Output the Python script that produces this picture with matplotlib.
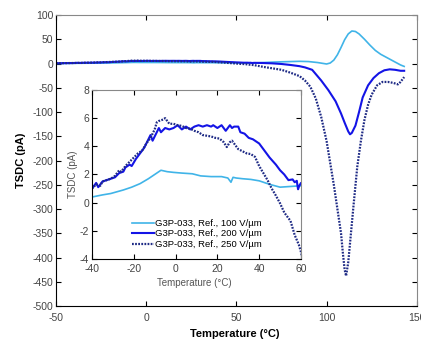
import matplotlib
matplotlib.use("Agg")
from matplotlib import pyplot as plt

plt.rcParams['font.family'] = ['Liberation Sans', 'DejaVu Sans']
plt.rcParams['axes.unicode_minus'] = False

# 100 V/um
t100 = [-50, -45, -40, -35, -31, -25, -21, -17, -13, -10,
        -7, -4, -1, 3, 8, 12, 17, 22, 25, 26.5,
        27.5, 29, 32, 36, 40, 45, 50, 55, 60, 65,
        70, 75, 80, 85, 90, 95, 100, 102, 104, 106,
        108, 110, 112, 114, 116, 118, 121, 124, 127, 130,
        134, 138, 141, 143]
v100 = [0.1, 0.2, 0.4, 0.55, 0.65, 0.9, 1.1, 1.35, 1.7, 2.0,
        2.3, 2.2, 2.15, 2.1, 2.05, 1.9, 1.85, 1.85, 1.75, 1.45,
        1.8, 1.75, 1.7, 1.65, 1.55, 1.3, 1.1, 1.15, 1.2, 2.0,
        2.8, 3.5, 4.0, 4.5, 4.0, 2.0, -1.0, 1.0, 7.0, 18.0,
        33.0, 49.0, 61.0, 67.0, 66.0, 61.0, 50.0, 38.0, 27.0, 19.0,
        11.0, 3.0, -3.0, -6.0]

# 200 V/um
t200 = [-50, -45, -40, -38, -37, -35, -33, -31, -29, -27,
        -25, -24, -22, -21, -19, -17, -15, -13, -12, -11,
        -10, -8, -7, -5, -3, -1, 1, 3, 5, 7,
        9, 11, 13, 15, 17, 18, 20, 22, 23, 24,
        26, 27, 28, 30, 31, 33, 35, 37, 40, 42,
        45, 48, 50, 52, 54, 56, 57, 58, 58.6, 59.2,
        60, 65, 70, 75, 80, 85, 88, 92, 97, 101,
        105, 108, 110, 112, 113, 114, 116, 118, 120, 123,
        126, 129, 132, 135, 138, 141, 143]
v200 = [0.5, 0.8, 1.0, 1.4, 1.1, 1.5, 1.6, 1.7, 1.8, 2.1,
        2.2, 2.5, 2.7, 2.6, 3.1, 3.5, 3.9, 4.5, 4.8, 4.4,
        4.7, 5.3, 5.0, 5.3, 5.2, 5.3, 5.5, 5.2, 5.4, 5.2,
        5.4, 5.5, 5.4, 5.5, 5.4, 5.5, 5.3, 5.5, 5.3, 5.1,
        5.5, 5.3, 5.4, 5.4, 5.0, 4.9, 4.6, 4.5, 4.2, 3.8,
        3.2, 2.7, 2.3, 2.0, 1.6, 1.65, 1.45, 1.55, 0.95, 1.2,
        1.4, 1.0, 0.3, -1.0, -3.0, -5.5, -8.0, -13.0, -35.0, -55.0,
        -78.0, -103.0, -122.0, -140.0, -146.0, -143.0, -128.0, -100.0, -70.0, -45.0,
        -30.0, -20.0, -14.0, -12.0, -13.0, -15.0, -15.0]

# 250 V/um
t250 = [-50, -45, -40, -38, -36, -35, -33, -31, -29, -27,
        -26, -24, -22, -20, -18, -16, -14, -12, -11, -10,
        -9, -8, -7, -6, -5, -4, -3, -1, 1, 3,
        5, 7, 9, 11, 13, 15, 17, 19, 21, 23,
        24.5, 26, 27, 28, 30, 32, 34, 36, 38, 40,
        42, 44, 46, 48, 50, 52, 54, 55, 57, 59,
        60, 65, 70, 75, 80, 85, 88, 91, 94, 97,
        100, 102, 104, 106, 108, 109, 110, 110.8, 112, 113.5,
        115, 117, 119, 121, 123, 125, 128, 131, 134, 137,
        139.5, 141, 143]
v250 = [0.5, 0.8, 1.0, 1.3, 1.2, 1.5, 1.6, 1.7, 1.9, 2.3,
        2.2, 2.6, 2.9, 3.2, 3.5, 3.7, 4.2, 4.6, 4.9, 5.2,
        5.7, 5.8, 5.85, 5.9, 6.0, 5.8, 5.6, 5.6, 5.5, 5.45,
        5.3, 5.25, 5.1, 5.0, 4.8, 4.75, 4.7, 4.6, 4.55, 4.3,
        3.95, 4.3, 4.4, 4.2, 3.8, 3.65, 3.5, 3.45, 3.25, 2.6,
        2.1, 1.6, 1.0, 0.5, -0.05, -0.7, -1.1, -1.3, -2.3, -3.0,
        -3.5, -7.0, -10.0, -13.0, -19.0, -26.0, -35.0, -48.0, -72.0, -110.0,
        -160.0, -205.0, -250.0, -300.0, -350.0, -390.0, -425.0, -438.0, -410.0, -350.0,
        -290.0, -213.0, -160.0, -116.0, -85.0, -64.0, -45.0, -38.0, -38.0, -40.0,
        -43.0, -38.0, -28.0]

labels = ["G3P-033, Ref., 100 V/µm", "G3P-033, Ref., 200 V/µm", "G3P-033, Ref., 250 V/µm"]
c100 = "#40b4e8"
c200 = "#1414e6"
c250 = "#1e2a85"

tick_col = "#444444"


def draw(ax):
    ax.plot(t100, v100, color=c100, lw=1.2, label=labels[0])
    ax.plot(t200, v200, color=c200, lw=1.5, label=labels[1])
    ax.plot(t250, v250, color=c250, lw=1.6, ls=(0, (0.8, 0.6)), label=labels[2])


def style(ax, size, xpad):
    ax.tick_params(direction='in', top=True, right=True, length=3.5, width=0.8,
                   labelsize=size, labelcolor=tick_col, pad=2)
    ax.tick_params(axis='x', pad=xpad)
    for s in ['left', 'bottom']:
        ax.spines[s].set_color('black')
    for s in ['top', 'right']:
        ax.spines[s].set_color('#888888')


fig = plt.figure(figsize=(4.21, 3.41), dpi=100)
ax = fig.add_axes([0.133, 0.1026, 0.857, 0.8534])
draw(ax)
ax.set_xlim(-50, 150)
ax.set_ylim(-500, 100)
ax.set_xticks(range(-50, 151, 50))
ax.set_yticks(range(-500, 101, 50))
style(ax, 7.5, 5)
ax.set_xlabel("Temperature (°C)", fontsize=8, fontweight='bold')
ax.set_ylabel("TSDC (pA)", fontsize=8, fontweight='bold')
ax.xaxis.set_label_coords(0.496, -0.078)
ax.yaxis.set_label_coords(-0.083, 0.5)

ins = fig.add_axes([0.2185, 0.2405, 0.4964, 0.4956])
draw(ins)
ins.set_xlim(-40, 60)
ins.set_ylim(-4, 8)
ins.set_xticks(range(-40, 61, 20))
ins.set_yticks(range(-4, 9, 2))
style(ins, 7.5, 3.5)
ins.set_xlabel("Temperature (°C)", fontsize=7, color='#555555')
ins.set_ylabel("TSDC (pA)", fontsize=7, color='#555555')
ins.xaxis.set_label_coords(0.49, -0.115)
ins.yaxis.set_label_coords(-0.067, 0.5)
ins.legend(loc='lower left', bbox_to_anchor=(0.19, 0.06), frameon=False,
           fontsize=6.8, handlelength=2.4, handletextpad=0.1, labelspacing=0.15,
           borderpad=0, borderaxespad=0)

fig.savefig("out.png", dpi=100)
